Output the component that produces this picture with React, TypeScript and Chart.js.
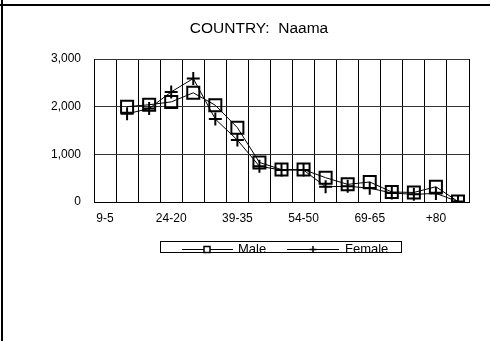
import React, { useEffect, useRef } from 'react';
import { Chart, registerables } from 'chart.js';

Chart.register(...registerables);

const ageGroups = ['9-5', '14-10', '19-15', '24-20', '29-25', '34-30', '39-35', '44-40', '49-45', '54-50', '59-55', '64-60', '69-65', '74-70', '79-75', '+80', 'ND'];
const maleValues = [null, 2000, 2040, 2100, 2290, 2030, 1560, 830, 680, 680, 510, 370, 420, 210, 200, 320, 10];
const femaleValues = [null, 1850, 1960, 2310, 2590, 1740, 1300, 750, 670, 670, 320, 330, 290, 190, 160, 180, 10];
const seriesNames = ['Male', 'Female'];
const titleText = 'COUNTRY:  Naama';
const yMin = 0;
const yMax = 3000;
const yStep = 1000;
const labelEvery = 3;

const FONT = "'Liberation Sans', Arial, sans-serif";

const decorPlugin = {
  id: 'decor',
  afterDraw(chart: any) {
    const ctx = chart.ctx as CanvasRenderingContext2D;
    ctx.save();
    // outer cell borders
    ctx.fillStyle = '#000';
    ctx.fillRect(1, 0, 2, 341);
    ctx.fillRect(0, 4, 490, 2);
    // title
    ctx.font = `15.5px ${FONT}`;
    ctx.textAlign = 'center';
    ctx.textBaseline = 'alphabetic';
    ctx.fillText(titleText, 259, 32.5);
    // legend box
    ctx.strokeStyle = '#000';
    ctx.lineWidth = 1;
    ctx.strokeRect(160.5, 241.5, 241, 11);
    const ly = 249.5;
    // male sample
    ctx.beginPath();
    ctx.moveTo(182, ly);
    ctx.lineTo(233, ly);
    ctx.stroke();
    ctx.lineWidth = 1.5;
    ctx.fillStyle = '#fff';
    ctx.fillRect(204, ly - 3, 6, 6);
    ctx.strokeRect(204, ly - 3, 6, 6);
    // female sample
    ctx.lineWidth = 1;
    ctx.beginPath();
    ctx.moveTo(287, ly);
    ctx.lineTo(339, ly);
    ctx.stroke();
    ctx.lineWidth = 1.5;
    ctx.beginPath();
    ctx.moveTo(313, ly - 3.5);
    ctx.lineTo(313, ly + 3.5);
    ctx.moveTo(309.5, ly);
    ctx.lineTo(316.5, ly);
    ctx.stroke();
    ctx.fillStyle = '#000';
    ctx.font = `13px ${FONT}`;
    ctx.textAlign = 'left';
    ctx.fillText(seriesNames[0], 238, 253);
    ctx.fillText(seriesNames[1], 345, 253);
    ctx.restore();
  },
};

export default function App() {
  const ref = useRef<HTMLCanvasElement>(null);
  useEffect(() => {
    document.body.style.margin = '0';
    document.body.style.overflow = 'hidden';
    const canvas = ref.current!;
    const chart = new Chart(canvas, {
      type: 'line',
      data: {
        labels: ageGroups,
        datasets: [
          {
            label: seriesNames[0],
            data: maleValues,
            borderColor: '#000',
            borderWidth: 1,
            pointStyle: 'rect',
            pointRadius: 8.5,
            pointBorderWidth: 2,
            pointBorderColor: '#000',
            pointBackgroundColor: 'rgba(0,0,0,0)',
            tension: 0,
            spanGaps: false,
          },
          {
            label: seriesNames[1],
            data: femaleValues,
            borderColor: '#000',
            borderWidth: 1,
            pointStyle: 'cross',
            pointRadius: 6.5,
            pointBorderWidth: 2,
            pointBorderColor: '#000',
            pointBackgroundColor: 'rgba(0,0,0,0)',
            tension: 0,
          },
        ],
      },
      options: {
        animation: false,
        responsive: false,
        devicePixelRatio: 1,
        layout: { padding: { top: 59, right: 21, bottom: 109, left: 0 } },
        plugins: {
          legend: { display: false },
          title: { display: false },
          tooltip: { enabled: false },
        },
        scales: {
          x: {
            type: 'category',
            offset: true,
            grid: { offset: true, color: '#000', lineWidth: 1, drawTicks: false },
            border: { color: '#000', width: 1 },
            ticks: {
              autoSkip: false,
              maxRotation: 0,
              padding: 9,
              color: '#000',
              font: { family: FONT, size: 12 },
              callback: (_v: any, i: number) => (i % labelEvery === 0 ? ageGroups[i] : ''),
            },
            afterFit: (s: any) => { s.height = 30; },
          },
          y: {
            min: yMin,
            max: yMax,
            ticks: {
              stepSize: yStep,
              padding: 13,
              color: '#000',
              font: { family: FONT, size: 12 },
              callback: (v: any) => Number(v).toLocaleString('en-US'),
            },
            grid: { color: '#333', lineWidth: 1, drawTicks: false },
            border: { color: '#000', width: 1 },
            afterFit: (s: any) => { s.width = 94; },
          },
        },
      },
      plugins: [decorPlugin],
    });
    return () => chart.destroy();
  }, []);
  return (
    <div style={{ width: 490, height: 341, position: 'relative', background: '#fff' }}>
      <canvas ref={ref} width={490} height={341} style={{ display: 'block' }} />
    </div>
  );
}
